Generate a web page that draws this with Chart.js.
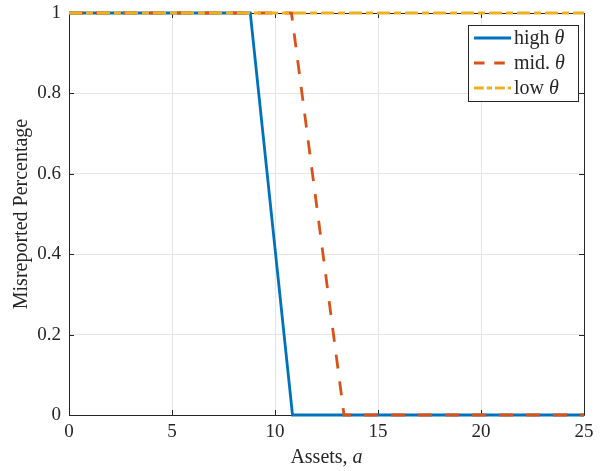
<!DOCTYPE html>
<html>
<head>
<meta charset="utf-8">
<script src="https://cdn.jsdelivr.net/npm/chart.js@4"></script>
<style>
    html, body { margin: 0; padding: 0; background: #fff; }
    #wrap { width: 614px; height: 471px; }
</style>
</head>
<body>
<div id="wrap"><canvas id="chart"></canvas></div>
<script>
// data
const highX = [0, 8.8, 10.85, 25];
const highY = [1, 1, 0, 0];
const midX = [0, 10.8, 13.35, 25];
const midY = [1, 1, 0, 0];
const lowX = [0, 25];
const lowY = [1, 1];

const xTicks = [0, 5, 10, 15, 20, 25];
const yTicks = [0, 0.2, 0.4, 0.6, 0.8, 1];

const seriesNames = ["high", "mid.", "low"];

const COLORS = {
    blue: "#0072BD",
    orange: "#D95319",
    yellow: "#EDB120",
    grid: "#e5e5e5",
    axis: "#262626",
    text: "#262626",
};

const FONT = "'Liberation Serif', 'DejaVu Serif', serif";
const DASHES = [[], [14, 13], [13, 4, 7, 4]];
const LINE_COLORS = [COLORS.blue, COLORS.orange, COLORS.yellow];
const LW = 2.8;

function toPoints(xs, ys) {
    return xs.map((x, i) => ({ x, y: ys[i] }));
}

// matlab-style box with inward ticks, drawn under the lines
const matlabBox = {
    id: "matlabBox",
    beforeDatasetsDraw(chart) {
        const { ctx, chartArea: a, scales } = chart;
        const tl = 5;
        ctx.save();
        ctx.strokeStyle = COLORS.axis;
        ctx.lineWidth = 1;
        ctx.beginPath();
        ctx.rect(Math.round(a.left) + 0.5, Math.round(a.top) + 0.5, Math.round(a.right - a.left), Math.round(a.bottom - a.top));
        xTicks.forEach(v => {
            const px = Math.round(scales.x.getPixelForValue(v)) + 0.5;
            ctx.moveTo(px, a.bottom); ctx.lineTo(px, a.bottom - tl);
            ctx.moveTo(px, a.top); ctx.lineTo(px, a.top + tl);
        });
        yTicks.forEach(v => {
            const py = Math.round(scales.y.getPixelForValue(v)) + 0.5;
            ctx.moveTo(a.left, py); ctx.lineTo(a.left + tl, py);
            ctx.moveTo(a.right, py); ctx.lineTo(a.right - tl, py);
        });
        ctx.stroke();
        ctx.restore();
    },
};

// axis titles (with italic symbol) and boxed legend
const matlabText = {
    id: "matlabText",
    afterDraw(chart) {
        const { ctx, chartArea: a } = chart;
        ctx.save();
        ctx.fillStyle = COLORS.text;
        ctx.textBaseline = "middle";
        ctx.textAlign = "left";
        const xt1 = "Assets, ";
        ctx.font = "20px " + FONT;
        const w1 = ctx.measureText(xt1).width;
        ctx.font = "italic 20px " + FONT;
        const w2 = ctx.measureText("a").width;
        const sx = (a.left + a.right) / 2 - (w1 + w2) / 2;
        ctx.font = "20px " + FONT;
        ctx.fillText(xt1, sx, 458);
        ctx.font = "italic 20px " + FONT;
        ctx.fillText("a", sx + w1, 458);

        ctx.save();
        ctx.translate(22, (a.top + a.bottom) / 2);
        ctx.rotate(-Math.PI / 2);
        ctx.textAlign = "center";
        ctx.font = "20px " + FONT;
        ctx.fillText("Misreported Percentage", 0, 0);
        ctx.restore();

        // legend
        const lx = 468.5, ly = 25.5, lw = 110, lh = 76;
        ctx.fillStyle = "#fff";
        ctx.fillRect(lx, ly, lw, lh);
        ctx.strokeStyle = COLORS.axis;
        ctx.lineWidth = 1;
        ctx.strokeRect(lx, ly, lw, lh);
        const rows = [38, 63, 88];
        seriesNames.forEach((name, i) => {
            ctx.beginPath();
            ctx.strokeStyle = LINE_COLORS[i];
            ctx.lineWidth = LW;
            ctx.setLineDash(DASHES[i].length ? DASHES[i].map(d => d * 0.75) : []);
            ctx.moveTo(474, rows[i]);
            ctx.lineTo(511, rows[i]);
            ctx.stroke();
            ctx.setLineDash([]);
            ctx.fillStyle = COLORS.text;
            ctx.textAlign = "left";
            ctx.font = "20px " + FONT;
            const t = name + " ";
            ctx.fillText(t, 514, rows[i] + 1);
            const tw = ctx.measureText(t).width;
            ctx.font = "italic 20px " + FONT;
            ctx.fillText("\u03b8", 514 + tw, rows[i] + 1);
        });
        ctx.restore();
    },
};

new Chart(document.getElementById("chart"), {
    type: "line",
    data: {
        datasets: [
            { label: "high", data: toPoints(highX, highY), borderColor: COLORS.blue, borderWidth: LW, order: 2, clip: 5 },
            { label: "mid.", data: toPoints(midX, midY), borderColor: COLORS.orange, borderWidth: LW, borderDash: DASHES[1], order: 1, clip: 5 },
            { label: "low", data: toPoints(lowX, lowY), borderColor: COLORS.yellow, borderWidth: LW, borderDash: DASHES[2], order: 0, clip: 5 },
        ],
    },
    options: {
        responsive: true,
        maintainAspectRatio: false,
        animation: false,
        events: [],
        elements: { point: { radius: 0 }, line: { tension: 0, fill: false } },
        layout: { padding: { top: 13, right: 30, left: 0, bottom: 0 } },
        plugins: { legend: { display: false }, tooltip: { enabled: false } },
        scales: {
            x: {
                type: "linear",
                min: 0,
                max: 25,
                afterBuildTicks: s => { s.ticks = xTicks.map(v => ({ value: v })); },
                afterFit: s => { s.height = 56; s.paddingLeft = 0; s.paddingRight = 0; },
                ticks: { font: { family: FONT, size: 19 }, color: COLORS.text, padding: 6 },
                grid: { color: COLORS.grid, drawTicks: false },
                border: { display: false },
            },
            y: {
                min: 0,
                max: 1,
                afterBuildTicks: s => { s.ticks = yTicks.map(v => ({ value: v })); },
                afterFit: s => { s.width = 69; s.paddingTop = 0; s.paddingBottom = 0; },
                ticks: { font: { family: FONT, size: 19 }, color: COLORS.text, padding: 8, callback: v => String(+v.toFixed(1)) },
                grid: { color: COLORS.grid, drawTicks: false },
                border: { display: false },
            },
        },
    },
    plugins: [matlabBox, matlabText],
});
</script>
</body>
</html>
